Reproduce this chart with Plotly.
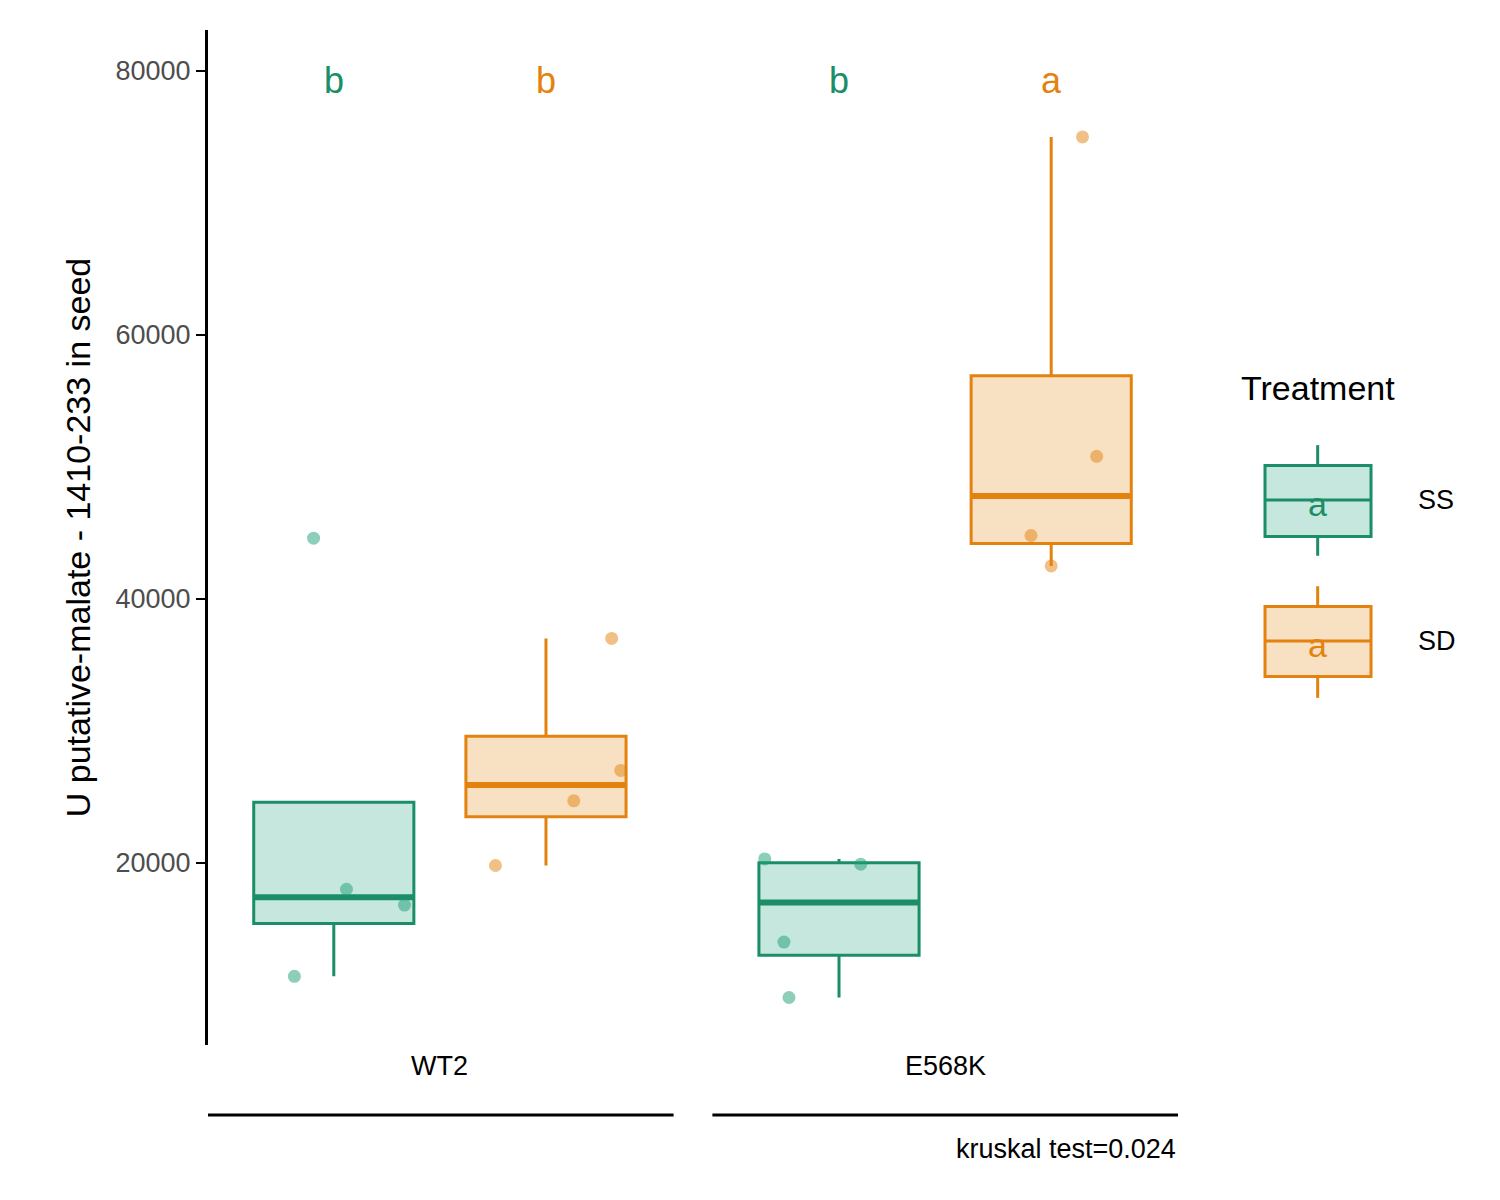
import plotly.graph_objects as go

# values
genotypes = ["WT2", "E568K"]
treatments = ["SS", "SD"]
colors = {"SS": "#1B8E68", "SD": "#E3820E"}
fills = {"SS": "rgba(27,158,119,0.25)", "SD": "rgba(227,130,14,0.25)"}
pt_colors = {"SS": "#1B9E77", "SD": "#E3820E"}

box_pos = {("WT2", "SS"): 0.79, ("WT2", "SD"): 1.21, ("E568K", "SS"): 1.79, ("E568K", "SD"): 2.21}
q1 = {("WT2", "SS"): 15400, ("WT2", "SD"): 23500, ("E568K", "SS"): 13000, ("E568K", "SD"): 44200}
med = {("WT2", "SS"): 17400, ("WT2", "SD"): 25900, ("E568K", "SS"): 17000, ("E568K", "SD"): 47800}
q3 = {("WT2", "SS"): 24600, ("WT2", "SD"): 29600, ("E568K", "SS"): 20000, ("E568K", "SD"): 56900}
lo = {("WT2", "SS"): 11400, ("WT2", "SD"): 19800, ("E568K", "SS"): 9800, ("E568K", "SD"): 42500}
hi = {("WT2", "SS"): 24600, ("WT2", "SD"): 37000, ("E568K", "SS"): 20300, ("E568K", "SD"): 75000}

pts_y = {("WT2", "SS"): [44600, 18000, 16800, 11400],
         ("WT2", "SD"): [37000, 27000, 24700, 19800],
         ("E568K", "SS"): [20300, 19900, 14000, 9800],
         ("E568K", "SD"): [75000, 50800, 44800, 42500]}
pts_jit = {("WT2", "SS"): [-0.04, 0.025, 0.14, -0.078],
           ("WT2", "SD"): [0.13, 0.148, 0.055, -0.1],
           ("E568K", "SS"): [-0.147, 0.043, -0.109, -0.099],
           ("E568K", "SD"): [0.062, 0.09, -0.04, 0.0]}
letters = {("WT2", "SS"): "b", ("WT2", "SD"): "b", ("E568K", "SS"): "b", ("E568K", "SD"): "a"}

BW = 0.317
fig = go.Figure()
for g in genotypes:
    for t in treatments:
        k = (g, t)
        fig.add_trace(go.Box(
            x=[box_pos[k]], q1=[q1[k]], median=[med[k]], q3=[q3[k]],
            lowerfence=[lo[k]], upperfence=[hi[k]], width=BW,
            line=dict(color=colors[t], width=3), fillcolor=fills[t],
            boxpoints=False, whiskerwidth=0, showlegend=False))
        # thicker median line like ggplot
        fig.add_trace(go.Scatter(
            x=[box_pos[k] - BW / 2, box_pos[k] + BW / 2], y=[med[k], med[k]], mode="lines",
            line=dict(color=colors[t], width=6), showlegend=False, hoverinfo="skip"))
        fig.add_trace(go.Scatter(
            x=[box_pos[k] + j for j in pts_jit[k]], y=pts_y[k], mode="markers",
            marker=dict(color=pt_colors[t], size=13, opacity=0.5), showlegend=False))
        fig.add_annotation(x=box_pos[k], y=79300, text=letters[k], showarrow=False,
                           font=dict(size=36, color=colors[t]))

shapes = []
# group underlines
for x0, x1 in [(0, 0.48), (0.52, 1.0)]:
    shapes.append(dict(type="line", xref="paper", yref="paper", x0=x0, x1=x1, y0=-0.069, y1=-0.069,
                       line=dict(color="black", width=3)))
# manual legend keys
for t, (yb, ym, yt, wl, wh) in zip(treatments, [(0.501, 0.537, 0.571, 0.482, 0.591),
                                                (0.363, 0.398, 0.432, 0.342, 0.452)]):
    c = colors[t]
    shapes.append(dict(type="rect", xref="paper", yref="paper", x0=1.0897, x1=1.199, y0=yb, y1=yt,
                       line=dict(color=c, width=3), fillcolor=fills[t]))
    shapes.append(dict(type="line", xref="paper", yref="paper", x0=1.0897, x1=1.199, y0=ym, y1=ym,
                       line=dict(color=c, width=3)))
    for a, b in [(wl, yb), (yt, wh)]:
        shapes.append(dict(type="line", xref="paper", yref="paper", x0=1.144, x1=1.144, y0=a, y1=b,
                           line=dict(color=c, width=3)))
    fig.add_annotation(xref="paper", yref="paper", x=1.144, y=ym - 0.004, text="a", showarrow=False,
                       xanchor="center", font=dict(size=34, color=c))
    fig.add_annotation(xref="paper", yref="paper", x=1.245, y=ym, text=t, showarrow=False,
                       xanchor="left", font=dict(size=27, color="black"))

fig.add_annotation(xref="paper", yref="paper", x=1.144, y=0.647, text="Treatment", showarrow=False,
                   xanchor="center", font=dict(size=34, color="black"))
for g, xp in zip(genotypes, [0.239, 0.760]):
    fig.add_annotation(xref="paper", yref="paper", x=xp, y=-0.037, text=g, showarrow=False,
                       xanchor="center", font=dict(size=27, color="black"))
fig.add_annotation(xref="paper", yref="paper", x=1.0, y=-0.119, text="kruskal test=0.024",
                   showarrow=False, xanchor="right", font=dict(size=27, color="black"))

fig.update_layout(
    width=1500, height=1200, plot_bgcolor="white", paper_bgcolor="white",
    margin=dict(l=200, r=330, t=22, b=163, autoexpand=False), shapes=shapes,
    font=dict(family="Liberation Sans, Arial", color="#333333"),
    xaxis=dict(range=[0.541, 2.461], showticklabels=False, showline=False, showgrid=False,
               zeroline=False, ticks=""),
    yaxis=dict(range=[6200, 83100], tickvals=[20000, 40000, 60000, 80000], tickformat="d",
               showgrid=False, automargin=False,
               zeroline=False, showline=True, linecolor="black", linewidth=3, ticks="outside",
               ticklen=9, tickwidth=2, tickcolor="black", tickfont=dict(size=27, color="#4D4D4D"),
               title=dict(text="U putative-malate - 1410-233 in seed", font=dict(size=34, color="black"),
                          standoff=15)),
)
fig.write_html("out.html")
